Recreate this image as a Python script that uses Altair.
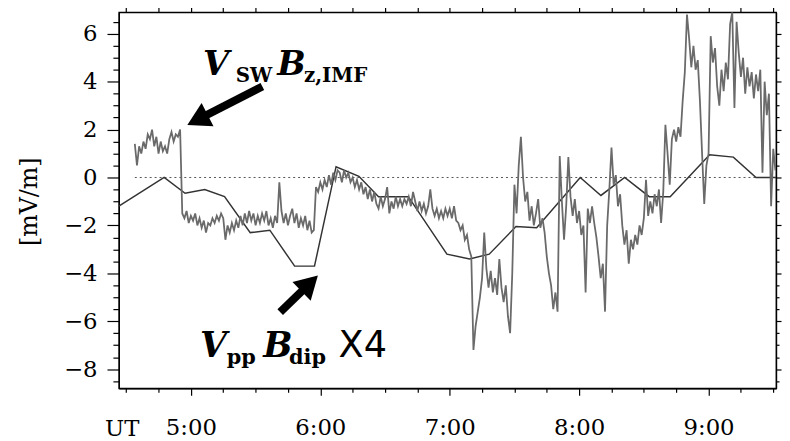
import altair as alt
import pandas as pd

# ---------------- data ----------------
# V_SW * Bz,IMF  (noisy trace), one sample per minute; segments keyed by start minute (minutes after 0:00 UT)
sw_seg_a_start = 274
sw_seg_a = [1.4, 0.5, 1.3, 1.0, 1.5, 1.2, 1.8, 1.6, 2.0, 1.3, 1.7, 1.0, 1.5, 1.1, 1.3, 1.0,
            1.6, 1.9, 1.5, 1.8, 1.7, 2.0]
sw_seg_b_start = 296
sw_seg_b = [-1.5, -1.7, -1.4, -1.9, -1.6, -1.8, -1.5, -2.0, -1.7, -2.1,
            -1.8, -2.3, -1.9, -2.0, -1.7, -1.9, -1.6, -1.8, -1.5, -1.7,
            -2.6, -2.0, -2.3, -1.9, -2.2, -1.8, -2.1, -1.6, -2.0, -1.5,
            -1.9, -1.4, -1.8, -1.5, -2.0, -1.6, -1.9, -1.5, -1.8, -1.4,
            -2.0, -1.7, -2.1, -1.6, -1.9, -0.2, -1.4, -1.9, -1.5, -2.0,
            -1.6, -1.3, -1.9, -1.5, -2.1, -1.7, -2.0, -1.6, -2.2, -1.8,
            -2.3, -2.2, -0.4, -0.6, -0.2, -0.5, -0.1, -0.4, 0.1, -0.3,
            0.2, -0.1, 0.3]
sw_seg_c_start = 369
sw_seg_c = [0.2, -0.2, 0.3, 0.0, 0.2, -0.2, 0.0, -0.4, -0.1, -0.5,
            -0.2, -0.7, -0.4, -0.9, -0.5, -1.0, -0.6, -1.1, -1.3, -0.8,
            -1.2, -0.9, -0.4, -1.5, -1.0, -1.3, -0.8, -1.2, -0.9, -1.2,
            -0.9, -1.1, -0.8, -1.2, -0.6, -1.0, -1.4, -1.0, -1.4, -1.1,
            -1.5, -1.2, -0.5, -1.3, -1.6, -1.3, -1.7, -1.4, -1.7, -1.3,
            -1.6, -1.3]
sw_seg_d_start = 421
sw_seg_d = [-1.7, -1.2, -1.8, -1.9, -2.2, -2.0, -2.6, -2.4, -3.0, -3.3,
            -7.2, -6.2, -5.6, -5.0, -4.2, -2.3, -3.8, -4.6, -3.9, -4.8,
            -4.2, -4.9, -3.4, -4.6, -5.2, -4.5, -5.8, -6.5, -4.0, -0.3,
            -1.5, 0.5, 1.7, 0.0, -1.0, -0.6, -1.8, -1.2, -2.0, -1.5,
            -0.9, -2.1, -1.7, -2.3, -3.3, -4.0, -4.5, -5.5, -4.8, -5.6,
            0.9, -1.0, -2.6, -1.2, 0.85, -0.8, -1.6, -0.9, -1.9]
sw_seg_e_start = 480
sw_seg_e = [-1.4, -2.4, -2.0, -4.8, -1.3, -1.9, -1.2, -1.9, -2.5, -3.3,
            -4.2, -3.6, -5.6, -2.0, -0.5, 1.25, -0.3, 0.1, -1.2, -0.7,
            -2.0, -2.8, -2.2, -3.6, -2.6, -3.0, -2.4, -2.8, -2.0, -2.4,
            -1.7, -0.1, -1.6, -1.0, -1.5, -0.7, -1.2, -0.5, -1.9, -0.6]
sw_seg_f_start = 520
sw_seg_f = [2.2, 1.0, -0.3, 1.6, 2.0, 1.5, 2.1, 1.7, 3.2, 4.4,
            6.8, 5.8, 4.6, 5.5, 4.5, 4.9, 3.2, 1.0, -1.1, 0.5,
            1.0, 5.9, 4.8, 5.4, 3.8, 3.0, 4.5, 3.6, 4.8, 4.1,
            6.4, 6.9, 2.9, 6.5, 5.2, 4.2, 5.0, 3.5, 4.6, 3.8,
            4.4, 3.3, 4.3, 3.6, 4.5, 0.2, 4.0, 2.6, 3.5, -1.2,
            1.2, 0.3]

# V_pp * B_dip x4 (smooth piecewise trace): time in minutes, value in mV/m
pp_t = [266.6, 287.6, 297.3, 306.4, 315.6, 327.5, 336.6, 348.1, 357.3, 367.3,
        377.9, 387.0, 400.8, 418.7, 429.2, 438.3, 450.7, 460.3, 480.5, 490.1,
        501.1, 512.5, 522.2, 540.5, 551.5, 562.0, 571.3]
pp_v = [-1.2, 0.0, -0.66, -0.5, -0.8, -2.3, -2.2, -3.7, -3.7, 0.45,
        0.05, -0.8, -0.8, -3.2, -3.4, -3.2, -2.05, -2.1, 0.0, -0.75,
        0.0, -0.8, -0.8, 0.95, 0.85, 0.0, 0.0]

zero_line_t = [274, 571.3]

x_hour_ticks = [300, 360, 420, 480, 540]          # 5:00 ... 9:00
x_tick_values = [270 + 15 * i for i in range(21)]  # every 15 min
y_major_ticks = [-8, -6, -4, -2, 0, 2, 4, 6]
y_tick_values = [-8.5 + 0.5 * i for i in range(31)]

X_DOMAIN = [266.6, 571.3]
Y_DOMAIN = [-8.8, 6.9]

# ---------------- frames ----------------
rows = []
for start, vals in [(sw_seg_a_start, sw_seg_a), (sw_seg_b_start, sw_seg_b),
                    (sw_seg_c_start, sw_seg_c), (sw_seg_d_start, sw_seg_d),
                    (sw_seg_e_start, sw_seg_e), (sw_seg_f_start, sw_seg_f)]:
    for i, v in enumerate(vals):
        rows.append({"t": start + i, "v": v})
sw_df = pd.DataFrame(rows)
pp_df = pd.DataFrame({"t": pp_t, "v": pp_v})
zero_df = pd.DataFrame({"t0": [zero_line_t[0]], "t1": [zero_line_t[1]], "v": [0.0]})
one = pd.DataFrame({"a": [0]})

SERIF = "DejaVu Serif"
xs = alt.Scale(domain=X_DOMAIN, nice=False, zero=False)
ys = alt.Scale(domain=Y_DOMAIN, nice=False, zero=False)

hour_test = "datum.value % 60 === 0"
even_test = "datum.value % 2 === 0"

x_bottom = alt.Axis(
    orient="bottom", values=x_tick_values, title=None, grid=False,
    labelExpr="datum.value % 60 === 0 ? floor(datum.value / 60) + ':00' : ''",
    tickSize={"condition": {"test": hour_test, "value": 7}, "value": 4},
    labelFont=SERIF, labelFontSize=23, labelColor="black", labelPadding=22,
    labelOverlap=False, labelFlush=False,
    domainColor="black", domainWidth=1.3, tickColor="black", tickWidth=1.2,
)
y_left = alt.Axis(
    orient="left", values=y_tick_values, grid=False,
    labelExpr="datum.value % 2 === 0 ? format(datum.value, 'd') : ''",
    tickSize={"condition": {"test": even_test, "value": 12}, "value": 6},
    labelFont=SERIF, labelFontSize=23, labelColor="black", labelPadding=10,
    labelOverlap=False, labelFlush=False,
    domainColor="black", domainWidth=1.3, tickColor="black", tickWidth=1.2,
    title="[mV/m]", titleFont=SERIF, titleFontSize=24, titleFontWeight="normal",
    titleColor="black", titleX=-78, titleY=191,
)
x_top = alt.Axis(
    orient="top", values=x_tick_values, title=None, grid=False, labels=False,
    tickSize={"condition": {"test": hour_test, "value": 8}, "value": 5},
    domainColor="black", domainWidth=1.3, tickColor="black", tickWidth=1.2,
)
y_right = alt.Axis(
    orient="right", values=y_tick_values, title=None, grid=False, labels=False,
    tickSize={"condition": {"test": even_test, "value": 5}, "value": 3},
    domainColor="black", domainWidth=1.3, tickColor="black", tickWidth=1.2,
)

zero_layer = alt.Chart(zero_df).mark_rule(color="#555555", strokeDash=[2, 3], strokeWidth=1).encode(
    x=alt.X("t0:Q", scale=xs, axis=x_top),
    x2="t1:Q",
    y=alt.Y("v:Q", scale=ys, axis=y_right),
)

sw_layer = alt.Chart(sw_df).mark_line(color="#6a6a6a", strokeWidth=1.8, clip=True).encode(
    x=alt.X("t:Q", scale=xs, axis=x_bottom),
    y=alt.Y("v:Q", scale=ys, axis=y_left),
)

pp_layer = alt.Chart(pp_df).mark_line(color="#333333", strokeWidth=1.5, clip=True).encode(
    x=alt.X("t:Q", scale=xs, axis=None),
    y=alt.Y("v:Q", scale=ys, axis=None),
)


def label(txt, x, y, size, weight="normal", style="normal", font=SERIF):
    return alt.Chart(one).mark_text(
        text=txt, align="left", baseline="alphabetic", font=font, fontSize=size,
        fontWeight=weight, fontStyle=style, color="black",
    ).encode(x=alt.value(x), y=alt.value(y))


def arrow(x_tail, y_tail, x_head, y_head, angle):
    shaft = alt.Chart(one).mark_rule(color="black", strokeWidth=8).encode(
        x=alt.value(x_tail), y=alt.value(y_tail), x2=alt.value(x_head), y2=alt.value(y_head))
    head = alt.Chart(one).mark_point(shape="triangle", filled=True, size=700, angle=angle,
                                     color="black", opacity=1, strokeWidth=0).encode(
        x=alt.value(x_head), y=alt.value(y_head))
    return [shaft, head]


annotations = [
    label("V", 85, 63, 34, "bold", "italic"),
    label("SW", 118, 71, 20, "bold"),
    label("B", 160, 63, 34, "bold", "italic"),
    label("z,IMF", 187, 71, 20, "bold"),
    label("V", 82, 348, 35, "bold", "italic"),
    label("pp", 109, 355, 21, "bold"),
    label("B", 146, 348, 35, "bold", "italic"),
    label("dip", 172, 355, 21, "bold"),
    label("X4", 222, 348, 37, "normal", "normal", "DejaVu Sans"),
    label("UT", -14, 428, 23),
] + arrow(145, 75, 82.8, 107, 243) + arrow(163, 303, 190.1, 276.7, 46)

chart = alt.layer(zero_layer, pp_layer, sw_layer, *annotations).properties(
    width=664, height=380,
    autosize=alt.AutoSizeParams(type="none"),
    padding={"left": 112, "top": 2, "right": 6, "bottom": 51},
    background="white",
).configure_view(stroke="black", strokeWidth=1.3)

chart.save("out.html", embed_options={"renderer": "svg", "actions": False})
